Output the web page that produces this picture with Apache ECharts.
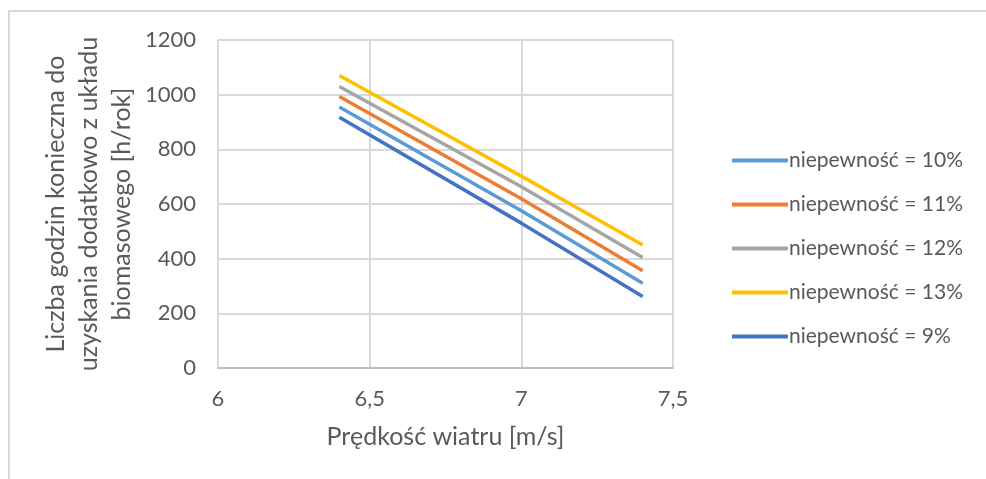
<!DOCTYPE html>
<html lang="pl">
<head>
    <meta charset="UTF-8" />
    <title>Liczba godzin vs prędkość wiatru</title>
    <script src="https://cdn.jsdelivr.net/npm/echarts@6/dist/echarts.min.js"></script>
    <style>
        body { margin: 0; background: #ffffff; }
        #frame {
            position: absolute; left: 8px; top: 10px;
            width: 1000px; height: 500px;
            border-left: 2px solid #d9d9d9; border-top: 2px solid #d9d9d9;
        }
        #main { position: absolute; left: 0; top: 0; width: 986px; height: 479px; }
    </style>
</head>
<body>
    <div id="frame"></div>
    <div id="main"></div>
    <script type="text/javascript">
        // dane
        var predkosc = [6.4, 7.0, 7.4];
        var niep10 = [955, 575, 310];
        var niep11 = [993, 619, 356];
        var niep12 = [1030, 663, 404];
        var niep13 = [1070, 702, 450];
        var niep9 = [917, 530, 262];

        var nazwy = ['niepewność = 10%', 'niepewność = 11%', 'niepewność = 12%', 'niepewność = 13%', 'niepewność = 9%'];
        var kolory = ['#5b9bd5', '#ed7d31', '#a5a5a5', '#ffc000', '#4472c4'];
        var serie = [niep10, niep11, niep12, niep13, niep9];

        function pary(ys) {
            return ys.map(function (y, i) { return [predkosc[i], y]; });
        }

        var myChart = echarts.init(document.getElementById('main'));
        var font = 'Lato, "Noto Sans", sans-serif';
        var option = {
            animation: false,
            textStyle: { fontFamily: font },
            grid: { left: 218, right: 313, top: 40, bottom: 111 },
            legend: {
                orient: 'vertical',
                left: 727,
                top: 145,
                itemWidth: 56,
                itemHeight: 4,
                itemGap: 23,
                icon: 'rect',
                textStyle: { color: '#595959', fontSize: 21, fontFamily: font, padding: [0, 0, 0, -4] },
                data: nazwy
            },
            xAxis: {
                type: 'value',
                min: 6,
                max: 7.5,
                interval: 0.5,
                name: 'Prędkość wiatru [m/s]',
                nameLocation: 'middle',
                nameGap: 56,
                nameTextStyle: { color: '#595959', fontSize: 25 },
                axisLine: { show: true, lineStyle: { color: '#bfbfbf', width: 2 } },
                axisTick: { show: false },
                splitLine: { show: true, lineStyle: { color: '#d9d9d9', width: 2 } },
                axisLabel: {
                    color: '#595959', fontSize: 22, margin: 20,
                    formatter: function (v) { return String(v).replace('.', ','); }
                }
            },
            yAxis: {
                type: 'value',
                min: 0,
                max: 1200,
                interval: 200,
                name: 'Liczba godzin konieczna do\nuzyskania dodatkowo z układu\nbiomasowego [h/rok]',
                nameLocation: 'middle',
                nameGap: 80,
                nameTextStyle: { color: '#595959', fontSize: 25, lineHeight: 33, align: 'center' },
                axisLine: { show: false },
                axisTick: { show: false },
                splitLine: { show: true, lineStyle: { color: '#d9d9d9', width: 2 } },
                axisLabel: {
                    color: '#595959', fontSize: 22, margin: 22,
                    formatter: function (v) { return String(v); }
                }
            },
            series: serie.map(function (d, i) {
                return {
                    name: nazwy[i],
                    type: 'line',
                    data: pary(d),
                    symbol: 'none',
                    lineStyle: { color: kolory[i], width: 3.5 },
                    itemStyle: { color: kolory[i] }
                };
            })
        };
        option && myChart.setOption(option);
    </script>
</body>
</html>
